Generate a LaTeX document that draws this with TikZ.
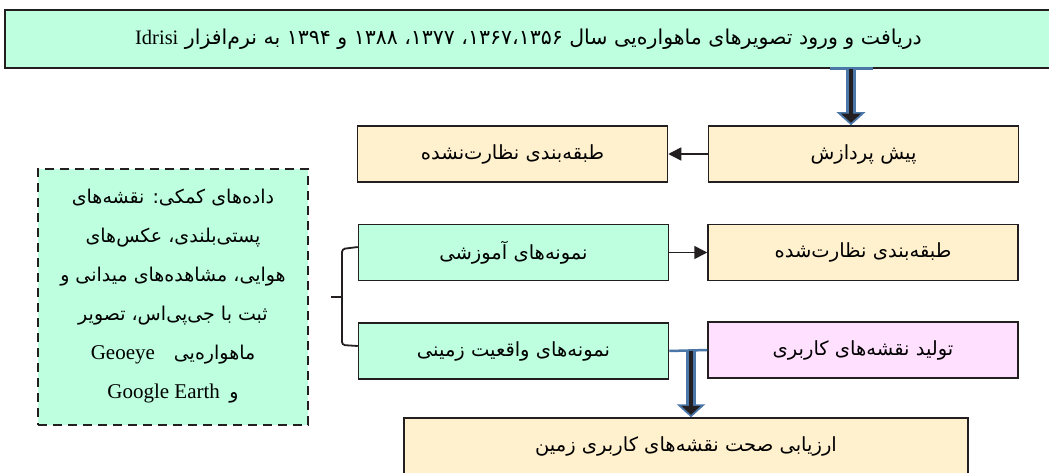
\documentclass[tikz,border=0pt]{standalone}
\usepackage{fontspec}
\setmainfont{Liberation Serif}
\newfontfamily\persian[Script=Arabic]{DejaVu Sans}
\TeXXeTstate=1
\usetikzlibrary{arrows.meta}
\newcommand{\fa}[1]{{\persian\beginR #1\endR}}
\newcommand{\en}[1]{\beginL{\rmfamily #1}\endL}
\definecolor{mint}{HTML}{BDFFDF}
\definecolor{cream}{HTML}{FFF1CE}
\definecolor{pinkish}{HTML}{FFE0FF}
\definecolor{edge}{HTML}{231F20}
\definecolor{steel}{HTML}{4A77A8}

\begin{document}
\begin{tikzpicture}[x=1pt,y=-1pt,
  box/.style={draw=edge, line width=1.5pt, minimum width=310pt, minimum height=56pt,
    inner sep=0pt, font=\fontsize{19.5}{22}\selectfont},
  arr/.style={draw=edge, line width=1.6pt, -{Triangle[length=13pt,width=13pt]}},
  capline/.style={draw=steel, line width=2.5pt}]
\useasboundingbox (0,0) rectangle (1049,473);

% boxes
\node[box, fill=mint, minimum width=1047pt, minimum height=58pt, font=\fontsize{20.5}{24}\selectfont]
  (top) at (528.5,39) {\fa{دریافت و ورود تصویرهای ماهواره‌یی سال ۱۳۶۷،۱۳۵۶، ۱۳۷۷، ۱۳۸۸ و ۱۳۹۴ به نرم‌افزار \en{Idrisi}}};
\node[box, fill=cream] (pre) at (863.5,154) {\fa{پیش پردازش}};
\node[box, fill=cream] (unsup) at (512.5,154) {\fa{طبقه‌بندی نظارت‌نشده}};
\node[box, fill=mint] (train) at (513.5,252.5) {\fa{نمونه‌های آموزشی}};
\node[box, fill=cream] (sup) at (863,252.5) {\fa{طبقه‌بندی نظارت‌شده}};
\node[box, fill=mint] (ground) at (513.5,351) {\fa{نمونه‌های واقعیت زمینی}};
\node[box, fill=pinkish] (landuse) at (863,350) {\fa{تولید نقشه‌های کاربری}};
\node[box, fill=cream, minimum width=564pt] (eval) at (686,446) {\fa{ارزیابی صحت نقشه‌های کاربری زمین}};
\node[draw=edge, fill=mint, line width=1.5pt, dash pattern=on 9pt off 6pt,
  minimum width=270pt, minimum height=256pt, align=center, inner sep=0pt,
  font=\fontsize{19}{39}\selectfont] (aux) at (173,297)
  {\fa{داده‌های کمکی: نقشه‌های}\\
   \fa{پستی‌بلندی، عکس‌های}\\
   \fa{هوایی، مشاهده‌های میدانی و}\\
   \fa{ثبت با جی‌پی‌اس، تصویر}\\
   \fa{ماهواره‌یی\quad\en{\fontsize{21}{24}\selectfont Geoeye}}\\
   \fa{و\enspace\en{\fontsize{21}{24}\selectfont Google Earth}}\rule[-6pt]{0pt}{1pt}};

% connectors
\coordinate (t1) at (851,0);
\coordinate (t2) at (691,0);
\draw[capline] (top.south -| 830,0) -- (top.south -| 873,0);
\draw[steel, line width=10pt, -{Triangle[length=13pt,width=28pt]}] (top.south -| t1) -- (pre.north -| t1);
\draw[edge, line width=4.5pt, shorten >=2.5pt, -{Triangle[length=9pt,width=19pt]}] (top.south -| t1) -- (pre.north -| t1);
\draw[arr] (pre.west) -- (unsup.east);
\draw[arr] (train.east) -- (sup.west);
\draw[capline] (ground.east) -- (landuse.west);
\draw[steel, line width=10pt, -{Triangle[length=13pt,width=28pt]}] (ground.east -| t2) -- (eval.north -| t2);
\draw[edge, line width=4.5pt, shorten >=2.5pt, -{Triangle[length=9pt,width=19pt]}] (ground.east -| t2) -- (eval.north -| t2);

% brace
\draw[edge, line width=1.8pt, rounded corners=3pt]
  (train.west |- 0,247) -- (342,249) -- (342,345) -- (ground.west |- 0,346);
\draw[edge, line width=1.8pt] (331,297) -- (342,297);
\end{tikzpicture}
\end{document}
